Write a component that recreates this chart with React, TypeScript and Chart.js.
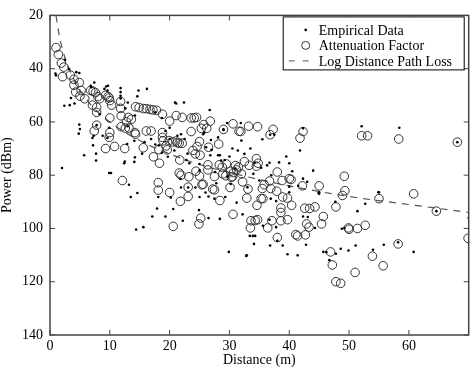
import React, { useEffect, useRef } from "react";
import { Chart, registerables } from "chart.js";

Chart.register(...registerables);

// Empirical measurements: [distance (m), power (dBm)]
const empiricalData: [number, number][] = [
  [0.9, 41.8], [1, 42.5], [2.5, 36.7], [3.2, 40.1], [4.4, 41.3], [2.4, 53.9], [2, 77.3], [4.9, 41.6],
  [4.9, 61], [4.8, 64.4], [5, 62.7], [4.1, 53.1], [3.5, 51], [3.3, 53.7], [5.7, 72.5], [7.2, 68.8],
  [7.7, 74.5], [7.7, 71.9], [7.3, 65.2], [7.1, 66], [6.9, 47], [6.8, 46.4], [7.4, 45.2], [9.1, 47.6],
  [9.7, 46.4], [9.4, 46.7], [9.6, 48.2], [8.3, 57.1], [11.8, 47.3], [11.8, 48.8], [11.8, 50.2],
  [11.8, 51.2], [13, 52.7], [12.6, 54.9], [14.8, 48.2], [14.6, 50.4], [16.2, 47.6], [14.2, 57.6],
  [8.8, 65.2], [9.6, 66], [12.4, 75.5], [12.5, 74.9], [12.9, 68.3], [10.2, 79.2], [14.2, 73.3],
  [15.8, 67.6], [9.9, 62.2], [13, 61.6], [14.1, 67.1], [15.4, 71.9], [14.1, 75], [16.9, 66.4],
  [17.6, 68.5], [17.6, 56.4], [19.3, 63.4], [20, 66.4], [19.7, 73.1], [21.1, 53.1], [20.9, 52.7],
  [22.4, 52.7], [21.9, 64.6], [22.5, 66.4], [23, 71.9], [23.3, 75.5], [21.9, 84.6], [25.6, 64.6],
  [26.7, 55.5], [26.1, 69.5], [26.8, 72.5], [25, 78.2], [24.3, 84.6], [28.1, 65.8], [28.4, 72.5],
  [29, 63], [27.6, 78.8], [29.7, 80.5], [30.2, 83.3], [29.6, 60.4], [31.4, 70.7], [18.7, 58.5],
  [31.9, 60.4], [20, 62.2], [25.8, 64], [26.9, 66.8], [21.3, 65.2], [18.2, 68.8], [20.8, 70.7],
  [18.7, 71.6], [22.8, 74.3], [25, 75.8], [28.1, 72.5], [29.2, 74.3], [34.2, 75.3], [52.1, 61.6],
  [58.4, 62.2], [41.8, 70.7], [42.3, 62.4], [37.5, 64.8], [36.7, 75.3], [35.3, 77.2], [40, 75.5],
  [42.3, 81.3], [45, 87], [13.5, 88.2], [14.6, 86.7], [14.4, 100.4], [15.6, 99.5], [17.1, 95.5],
  [17.9, 92.5], [18.1, 88.2], [19.3, 95.5], [20.6, 92.7], [20.2, 88.4], [22.2, 97.1], [24.9, 93.1],
  [25, 88.2], [26.5, 96.1], [26.5, 88], [27.5, 88.8], [28.4, 96.4], [29.9, 108.8], [31.2, 90.3],
  [13.2, 83.6], [9.9, 79.2], [21.8, 81.4], [23.1, 84.6], [29.3, 88.2], [32.2, 94.7], [32.9, 110.1],
  [32.8, 110.3], [34.1, 105.8], [33.9, 102.8], [34.3, 102.8], [35.6, 99], [33.4, 102.8],
  [36.8, 106.4], [38.9, 106.4], [39.7, 109.7], [41.4, 110.1], [42.8, 106.1], [45.7, 108.8],
  [46.7, 111.9], [47.8, 109.5], [48.6, 107.6], [49.9, 108.3], [51.1, 106.4], [54, 108], [55.8, 106.1],
  [58.2, 105.2], [60.8, 108.8], [70, 96.1], [51.4, 93.5], [52.7, 90.7], [54.9, 86.4], [45, 86.4],
  [37.8, 99.5], [43.1, 95.7], [44.3, 99.8], [49.2, 99.8], [47.7, 90], [44.9, 86.7], [48.8, 100.1],
  [46.2, 108.9], [38, 104.6], [36.9, 88.8], [37.8, 89.7], [40, 86.4], [40, 84.3], [42.3, 95.5],
  [36.7, 96.7], [7.8, 61.2], [29, 62.8], [36.8, 64.8], [68.1, 67.6], [64.6, 93.5], [55, 86.4],
  [27, 70.5], [28.6, 74.5], [30, 73], [31, 77.5], [32.5, 72], [33.5, 70], [34, 79.5], [35, 82],
  [36.3, 76.3], [37, 80], [38.3, 75.2], [39.5, 73], [40.5, 78.5], [41.5, 84], [43, 82.5], [44, 78.3],
  [30.5, 70], [32, 67], [35.5, 66.5], [33, 84.5], [27.8, 83], [26, 86.5],
];

// Attenuation factor model points: [distance (m), power (dBm)]
const attenuationData: [number, number][] = [
  [1.0, 32.1], [1.4, 34.7], [1.9, 37.9], [2.3, 39.4], [2.1, 43], [3.4, 42.4], [4, 44], [4.9, 45.2],
  [4, 46.2], [4.3, 48.8], [5.2, 48.2], [5, 50.3], [5.8, 51.3], [6.8, 48.2], [7.2, 48.5], [7.6, 49],
  [7.1, 53.7], [7.8, 54.5], [7.8, 56.4], [7.4, 63.4], [7.8, 61.2], [8.3, 51.3], [8, 50.5], [9.3, 50],
  [9.7, 50.5], [9.9, 51], [10.3, 53.7], [10, 52], [10, 58.5], [10, 64], [9.9, 65.8], [9.3, 70],
  [10.8, 69.2], [11.8, 54.9], [11.8, 52.3], [11.9, 57.7], [11.9, 61.8], [12.5, 70], [12.1, 82],
  [12.8, 60], [12.6, 62.3], [13.2, 62.3], [13.1, 58.3], [13.6, 59], [14.2, 64], [14.3, 64.6],
  [14.3, 54.3], [14.9, 54.6], [15.6, 55], [16.1, 55], [16.7, 55.3], [17.2, 55.5], [17.8, 55.6],
  [15.6, 69.7], [16.1, 63.4], [16.9, 63.4], [17.3, 73.1], [18.1, 82.8], [18.1, 85.6], [18.8, 57.1],
  [18.8, 64], [18.8, 65.8], [18.9, 67.1], [18.2, 70.4], [18.3, 75.5], [19.4, 69], [19.6, 70.5],
  [20, 59.7], [19.9, 67], [20.5, 67.5], [21, 67.2], [21.3, 67.8], [21.6, 68], [21.1, 57.6],
  [21.7, 74.3], [22.1, 68], [22.1, 58.3], [21.6, 79.2], [21.9, 80], [20, 86.5], [21.8, 89.8],
  [23.1, 88], [20.6, 99.2], [23.2, 80.6], [23.1, 84.5], [23.6, 58.5], [24.1, 58.5], [24.5, 58.3],
  [23.6, 63.6], [23.9, 70.7], [24.3, 72], [24.6, 69.2], [25, 67.4], [25.1, 72.5], [24.4, 78.5],
  [25, 80.3], [25.3, 62.4], [25.7, 61], [26.2, 62.4], [26.8, 59.7], [26.5, 69.5], [26.4, 76.1],
  [26.4, 78], [25.6, 83.4], [27.2, 85.2], [25.2, 96.1], [24.9, 98.3], [28.2, 68.3], [29, 62.8],
  [28.3, 76.1], [28.8, 77], [29.5, 75.8], [30.2, 78.5], [30.7, 79], [30.3, 80.8], [30.1, 84.6],
  [30.6, 60.7], [31.6, 63.5], [28.4, 89.5], [30.6, 94.7], [25.4, 83.6], [27.5, 85.5], [27.5, 80.5],
  [28.9, 79.5], [29.4, 80.2], [31.5, 77], [32, 79.5], [31.9, 63.6], [33.2, 61.6], [34.7, 61.8],
  [36.8, 64.8], [37.3, 62.8], [32.2, 82.5], [32.9, 88.6], [33.1, 85.2], [33.6, 97.1], [34.3, 97],
  [33.5, 99.8], [34.6, 91.3], [35.3, 88.8], [32.5, 74.9], [31, 76.4], [31.2, 78], [30.5, 80.5],
  [33.3, 76.3], [34.5, 73.8], [34.8, 75.5], [34.5, 76.6], [38, 78.8], [38.8, 82], [40, 81.3],
  [40.3, 81.6], [36.7, 82.2], [35.8, 83.6], [35.6, 88.8], [36.9, 85], [35.5, 85], [34.7, 96.7],
  [36.4, 99.8], [37.1, 97.1], [38.6, 92.3], [38.6, 94], [38.6, 97.1], [39.7, 96.7], [38.9, 88.2],
  [39.7, 88.6], [40.4, 91.3], [38, 103.4], [37.9, 86], [42.2, 84], [41.8, 66.1], [42.3, 63.6],
  [45, 84], [49.2, 80.4], [49.3, 85.8], [48.9, 87.6], [47.8, 91.9], [44.3, 91.9], [43.4, 92.5],
  [42.6, 92.4], [42.9, 98.3], [43.3, 99.5], [42.7, 102.4], [41.1, 102.3], [41.4, 102.8],
  [45.7, 95.5], [45.4, 98.3], [46.9, 108.8], [47.2, 113.7], [47.8, 120], [48.6, 120.6], [49.9, 99.8],
  [50, 100.3], [51.4, 100], [52.7, 98.8], [51, 116.5], [52.1, 65.2], [53.1, 65.2], [58.3, 66.4],
  [55, 88.8], [60.8, 87], [64.6, 93.5], [53.9, 110.4], [55.7, 114], [58.2, 105.8], [68.1, 67.6],
  [69.9, 103.7],
];

// Log distance path loss curve
const curveDist = [1, 1.5, 2, 3, 4, 5, 7, 10, 15, 20, 25, 30, 40, 50, 60, 70];
const curvePower = [20, 27, 32, 39, 44, 48, 54, 60, 67, 72, 76, 79, 84, 88, 91, 94];

const xTicks = [0, 10, 20, 30, 40, 50, 60];
const yTicks = [20, 40, 60, 80, 100, 120, 140];

const FONT = '"Liberation Serif", "Times New Roman", serif';

const framePlugin = {
  id: "frameTicks",
  afterDatasetsDraw(chart: any) {
    const { ctx, chartArea: a, scales } = chart;
    ctx.save();
    ctx.strokeStyle = "#444";
    ctx.lineWidth = 1.5;
    ctx.strokeRect(a.left, a.top, a.right - a.left, a.bottom - a.top);
    ctx.lineWidth = 1;
    const L = 5;
    ctx.beginPath();
    for (const v of xTicks) {
      const px = scales.x.getPixelForValue(v);
      ctx.moveTo(px, a.bottom);
      ctx.lineTo(px, a.bottom - L);
      ctx.moveTo(px, a.top);
      ctx.lineTo(px, a.top + L);
    }
    for (const v of yTicks) {
      const py = scales.y.getPixelForValue(v);
      ctx.moveTo(a.left, py);
      ctx.lineTo(a.left + L, py);
      ctx.moveTo(a.right, py);
      ctx.lineTo(a.right - L, py);
    }
    ctx.stroke();
    ctx.restore();
  },
};

const legendPlugin = {
  id: "boxLegend",
  afterDraw(chart: any) {
    const { ctx, chartArea: a } = chart;
    const ds = chart.data.datasets;
    const right = a.right - 5;
    const left = right - 181;
    const top = a.top + 1;
    const h = 53;
    ctx.save();
    ctx.fillStyle = "#fff";
    ctx.fillRect(left, top, right - left, h);
    ctx.strokeStyle = "#000";
    ctx.lineWidth = 1;
    ctx.strokeRect(left + 0.5, top + 0.5, right - left, h);
    ctx.font = `14px ${FONT}`;
    ctx.fillStyle = "#000";
    ctx.textBaseline = "middle";
    const rows = [top + 13.5, top + 29, top + 44.5];
    const mx = left + 23;
    const tx = left + 36;
    ctx.beginPath();
    ctx.arc(mx, rows[0], 1.3, 0, Math.PI * 2);
    ctx.fill();
    ctx.beginPath();
    ctx.strokeStyle = "#333";
    ctx.arc(mx, rows[1], 4, 0, Math.PI * 2);
    ctx.stroke();
    ctx.beginPath();
    ctx.strokeStyle = "#555";
    ctx.setLineDash([6, 8]);
    ctx.moveTo(left + 6, rows[2]);
    ctx.lineTo(left + 27, rows[2]);
    ctx.stroke();
    ctx.setLineDash([]);
    ctx.fillStyle = "#000";
    for (let i = 0; i < 3; i++) ctx.fillText(ds[i].label, tx, rows[i] + 1);
    ctx.restore();
  },
};

export default function App() {
  const ref = useRef<HTMLCanvasElement | null>(null);
  useEffect(() => {
    document.body.style.margin = "0";
    const canvas = ref.current!;
    Chart.defaults.font.family = FONT;
    Chart.defaults.font.size = 14;
    Chart.defaults.color = "#000";
    const chart = new Chart(canvas, {
      type: "scatter",
      data: {
        datasets: [
          {
            label: "Empirical Data",
            data: empiricalData.map(([x, y]) => ({ x, y })),
            pointRadius: 1.3,
            pointBackgroundColor: "#000",
            pointBorderWidth: 0,
            showLine: false,
          },
          {
            label: "Attenuation Factor",
            data: attenuationData.map(([x, y]) => ({ x, y })),
            pointRadius: 4.3,
            pointBackgroundColor: "rgba(0,0,0,0)",
            pointBorderColor: "#333",
            pointBorderWidth: 1,
            showLine: false,
          },
          {
            label: "Log Distance Path Loss",
            type: "line",
            data: curveDist.map((d, i) => ({ x: d, y: curvePower[i] })),
            borderColor: "#555",
            borderWidth: 1.2,
            borderDash: [7, 6],
            pointRadius: 0,
            fill: false,
            cubicInterpolationMode: "monotone",
          } as any,
        ],
      },
      options: {
        responsive: false,
        animation: false,
        devicePixelRatio: 1,
        layout: { padding: { top: 4, right: 4, left: 0, bottom: 0 } },
        plugins: { legend: { display: false }, tooltip: { enabled: false } },
        scales: {
          x: {
            type: "linear",
            min: 0,
            max: 70,
            grid: { display: false, drawTicks: false },
            border: { display: false },
            ticks: {
              stepSize: 10,
              padding: 3,
              maxRotation: 0,
              autoSkip: false,
              callback: (v: any) => (xTicks.includes(Number(v)) ? String(v) : ""),
            },
            title: { display: true, text: "Distance (m)", padding: 0, font: { size: 14, lineHeight: 1 } },
            afterFit: (s: any) => {
              s.height = 32;
            },
          },
          y: {
            type: "linear",
            min: 20,
            max: 140,
            reverse: true,
            grid: { display: false, drawTicks: false },
            border: { display: false },
            ticks: { stepSize: 20, padding: 7, autoSkip: false },
            title: { display: true, text: "Power (dBm)", padding: 0, font: { size: 14, lineHeight: 1 } },
            afterFit: (s: any) => {
              s.width = 50;
            },
          },
        },
      },
      plugins: [framePlugin, legendPlugin],
    });
    return () => chart.destroy();
  }, []);
  return <canvas ref={ref} width={474} height={367} style={{ display: "block" }} />;
}
